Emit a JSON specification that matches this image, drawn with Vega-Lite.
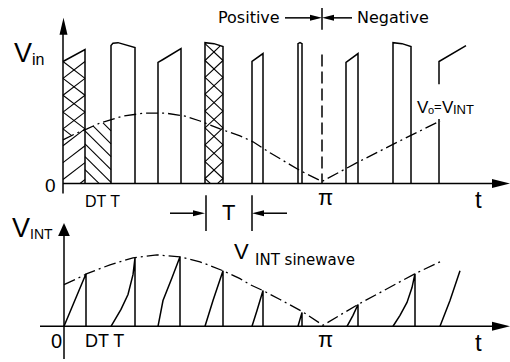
{
  "$schema": "https://vega.github.io/schema/vega-lite/v6.json",
  "width": 510,
  "height": 362,
  "autosize": {"type": "fit", "contains": "padding"},
  "padding": 0,
  "background": "white",
  "config": {"view": {"stroke": null}},
  "resolve": {"scale": {"size": "independent", "shape": "independent"}},
  "datasets": {
    "solid": [
      {"id": "ax1", "o": 0, "x": 63, "y": 195}, {"id": "ax1", "o": 1, "x": 63, "y": 30},
      {"id": "bl1", "o": 0, "x": 63, "y": 185}, {"id": "bl1", "o": 1, "x": 494, "y": 185},
      {"id": "ax2", "o": 0, "x": 64, "y": 362}, {"id": "ax2", "o": 1, "x": 64, "y": 236},
      {"id": "bl2", "o": 0, "x": 40, "y": 329}, {"id": "bl2", "o": 1, "x": 494, "y": 329},
      {"id": "p1", "o": 0, "x": 63, "y": 62}, {"id": "p1", "o": 1, "x": 85, "y": 50}, {"id": "p1", "o": 2, "x": 85, "y": 185},
      {"id": "p2", "o": 0, "x": 111, "y": 185}, {"id": "p2", "o": 1, "x": 111, "y": 46}, {"id": "p2", "o": 2, "x": 113, "y": 43.5}, {"id": "p2", "o": 3, "x": 118, "y": 43}, {"id": "p2", "o": 4, "x": 135, "y": 48}, {"id": "p2", "o": 5, "x": 135, "y": 185},
      {"id": "p3", "o": 0, "x": 158, "y": 185}, {"id": "p3", "o": 1, "x": 158, "y": 63}, {"id": "p3", "o": 2, "x": 163, "y": 60}, {"id": "p3", "o": 3, "x": 181, "y": 49}, {"id": "p3", "o": 4, "x": 181, "y": 185},
      {"id": "p4", "o": 0, "x": 205, "y": 185}, {"id": "p4", "o": 1, "x": 205, "y": 43}, {"id": "p4", "o": 2, "x": 214, "y": 44}, {"id": "p4", "o": 3, "x": 223, "y": 47}, {"id": "p4", "o": 4, "x": 223, "y": 185},
      {"id": "p5", "o": 0, "x": 252, "y": 185}, {"id": "p5", "o": 1, "x": 252, "y": 62}, {"id": "p5", "o": 2, "x": 263, "y": 54}, {"id": "p5", "o": 3, "x": 263, "y": 185},
      {"id": "p6", "o": 0, "x": 298, "y": 185}, {"id": "p6", "o": 1, "x": 298, "y": 44}, {"id": "p6", "o": 2, "x": 300, "y": 43}, {"id": "p6", "o": 3, "x": 302, "y": 44}, {"id": "p6", "o": 4, "x": 302, "y": 185},
      {"id": "p7", "o": 0, "x": 346, "y": 185}, {"id": "p7", "o": 1, "x": 346, "y": 63}, {"id": "p7", "o": 2, "x": 358, "y": 54}, {"id": "p7", "o": 3, "x": 358, "y": 185},
      {"id": "p8", "o": 0, "x": 393, "y": 185}, {"id": "p8", "o": 1, "x": 393, "y": 43}, {"id": "p8", "o": 2, "x": 402, "y": 44}, {"id": "p8", "o": 3, "x": 411, "y": 47}, {"id": "p8", "o": 4, "x": 411, "y": 185},
      {"id": "p9a", "o": 0, "x": 439, "y": 185}, {"id": "p9a", "o": 1, "x": 439, "y": 120},
      {"id": "p9b", "o": 0, "x": 439, "y": 85}, {"id": "p9b", "o": 1, "x": 439, "y": 62}, {"id": "p9b", "o": 2, "x": 466, "y": 46},
      {"id": "r1", "o": 0, "x": 64, "y": 329}, {"id": "r1", "o": 1, "x": 86, "y": 276}, {"id": "r1", "o": 2, "x": 86, "y": 329},
      {"id": "r2", "o": 0, "x": 111, "y": 329}, {"id": "r2", "o": 1, "x": 121, "y": 312}, {"id": "r2", "o": 2, "x": 128, "y": 297}, {"id": "r2", "o": 3, "x": 133, "y": 277}, {"id": "r2", "o": 4, "x": 135, "y": 260}, {"id": "r2", "o": 5, "x": 135, "y": 329},
      {"id": "r3", "o": 0, "x": 158, "y": 329}, {"id": "r3", "o": 1, "x": 163, "y": 303}, {"id": "r3", "o": 2, "x": 172, "y": 280}, {"id": "r3", "o": 3, "x": 180, "y": 259}, {"id": "r3", "o": 4, "x": 180, "y": 329},
      {"id": "r4", "o": 0, "x": 205, "y": 329}, {"id": "r4", "o": 1, "x": 213, "y": 303}, {"id": "r4", "o": 2, "x": 223, "y": 273}, {"id": "r4", "o": 3, "x": 223, "y": 329},
      {"id": "r5", "o": 0, "x": 252, "y": 329}, {"id": "r5", "o": 1, "x": 257, "y": 313}, {"id": "r5", "o": 2, "x": 263, "y": 293}, {"id": "r5", "o": 3, "x": 263, "y": 329},
      {"id": "r6", "o": 0, "x": 298, "y": 329}, {"id": "r6", "o": 1, "x": 302, "y": 315}, {"id": "r6", "o": 2, "x": 302, "y": 329},
      {"id": "r7", "o": 0, "x": 347, "y": 329}, {"id": "r7", "o": 1, "x": 353, "y": 318}, {"id": "r7", "o": 2, "x": 358, "y": 307}, {"id": "r7", "o": 3, "x": 358, "y": 329},
      {"id": "r8", "o": 0, "x": 393, "y": 329}, {"id": "r8", "o": 1, "x": 400, "y": 318}, {"id": "r8", "o": 2, "x": 407, "y": 305}, {"id": "r8", "o": 3, "x": 412, "y": 290}, {"id": "r8", "o": 4, "x": 415, "y": 276}, {"id": "r8", "o": 5, "x": 415, "y": 329},
      {"id": "r9", "o": 0, "x": 440, "y": 329}, {"id": "r9", "o": 1, "x": 450, "y": 303}, {"id": "r9", "o": 2, "x": 460, "y": 273},
      {"id": "tl", "o": 0, "x": 170, "y": 215}, {"id": "tl", "o": 1, "x": 195, "y": 215},
      {"id": "tb1", "o": 0, "x": 206, "y": 197}, {"id": "tb1", "o": 1, "x": 206, "y": 233},
      {"id": "tb2", "o": 0, "x": 252, "y": 197}, {"id": "tb2", "o": 1, "x": 252, "y": 233},
      {"id": "tr", "o": 0, "x": 263, "y": 215}, {"id": "tr", "o": 1, "x": 287, "y": 215},
      {"id": "pl", "o": 0, "x": 285, "y": 18}, {"id": "pl", "o": 1, "x": 312, "y": 18},
      {"id": "nl", "o": 0, "x": 332, "y": 18}, {"id": "nl", "o": 1, "x": 352, "y": 18},
      {"id": "pn", "o": 0, "x": 322, "y": 8}, {"id": "pn", "o": 1, "x": 322, "y": 30}
    ],
    "dashdot": [
      {"id": "c1", "o": 0, "x": 63, "y": 141}, {"id": "c1", "o": 1, "x": 77, "y": 134}, {"id": "c1", "o": 2, "x": 87, "y": 130}, {"id": "c1", "o": 3, "x": 100, "y": 124}, {"id": "c1", "o": 4, "x": 123, "y": 117}, {"id": "c1", "o": 5, "x": 145, "y": 114}, {"id": "c1", "o": 6, "x": 165, "y": 114}, {"id": "c1", "o": 7, "x": 185, "y": 117}, {"id": "c1", "o": 8, "x": 200, "y": 122}, {"id": "c1", "o": 9, "x": 220, "y": 130}, {"id": "c1", "o": 10, "x": 240, "y": 137}, {"id": "c1", "o": 11, "x": 253, "y": 143}, {"id": "c1", "o": 12, "x": 270, "y": 154}, {"id": "c1", "o": 13, "x": 290, "y": 166}, {"id": "c1", "o": 14, "x": 300, "y": 172}, {"id": "c1", "o": 15, "x": 322, "y": 183}, {"id": "c1", "o": 16, "x": 357, "y": 164}, {"id": "c1", "o": 17, "x": 400, "y": 142}, {"id": "c1", "o": 18, "x": 440, "y": 122},
      {"id": "c2", "o": 0, "x": 64, "y": 287}, {"id": "c2", "o": 1, "x": 75, "y": 282}, {"id": "c2", "o": 2, "x": 87, "y": 276}, {"id": "c2", "o": 3, "x": 110, "y": 267}, {"id": "c2", "o": 4, "x": 133, "y": 260}, {"id": "c2", "o": 5, "x": 157, "y": 257}, {"id": "c2", "o": 6, "x": 180, "y": 259}, {"id": "c2", "o": 7, "x": 200, "y": 264}, {"id": "c2", "o": 8, "x": 223, "y": 273}, {"id": "c2", "o": 9, "x": 240, "y": 281}, {"id": "c2", "o": 10, "x": 250, "y": 287}, {"id": "c2", "o": 11, "x": 263, "y": 293}, {"id": "c2", "o": 12, "x": 280, "y": 302}, {"id": "c2", "o": 13, "x": 302, "y": 314}, {"id": "c2", "o": 14, "x": 323, "y": 328}, {"id": "c2", "o": 15, "x": 358, "y": 307}, {"id": "c2", "o": 16, "x": 415, "y": 276}, {"id": "c2", "o": 17, "x": 440, "y": 264}
    ],
    "dashed": [
      {"id": "dv", "o": 0, "x": 322, "y": 55}, {"id": "dv", "o": 1, "x": 322, "y": 185}
    ],
    "hatch": [
      {"x": 63, "y": 62, "x2": 85, "y2": 79}, {"x": 63, "y": 79, "x2": 85, "y2": 96}, {"x": 63, "y": 96, "x2": 85, "y2": 113}, {"x": 63, "y": 113, "x2": 85, "y2": 130}, {"x": 63, "y": 130, "x2": 72, "y2": 137},
      {"x": 85, "y": 62, "x2": 63, "y2": 79}, {"x": 85, "y": 79, "x2": 63, "y2": 96}, {"x": 85, "y": 96, "x2": 63, "y2": 113}, {"x": 85, "y": 113, "x2": 63, "y2": 130}, {"x": 85, "y": 130, "x2": 63, "y2": 147}, {"x": 85, "y": 147, "x2": 63, "y2": 164}, {"x": 85, "y": 164, "x2": 63, "y2": 181}, {"x": 85, "y": 181, "x2": 80, "y2": 185},
      {"x": 103, "y": 124, "x2": 111, "y2": 132}, {"x": 93, "y": 127, "x2": 111, "y2": 145}, {"x": 85, "y": 132, "x2": 111, "y2": 158}, {"x": 85, "y": 145, "x2": 111, "y2": 171}, {"x": 85, "y": 158, "x2": 111, "y2": 184}, {"x": 85, "y": 171, "x2": 99, "y2": 185},
      {"x": 205, "y": 44, "x2": 223, "y2": 61}, {"x": 205, "y": 61, "x2": 223, "y2": 78}, {"x": 205, "y": 78, "x2": 223, "y2": 95}, {"x": 205, "y": 95, "x2": 223, "y2": 112}, {"x": 205, "y": 112, "x2": 223, "y2": 129}, {"x": 205, "y": 129, "x2": 223, "y2": 146}, {"x": 205, "y": 146, "x2": 223, "y2": 163}, {"x": 205, "y": 163, "x2": 223, "y2": 180}, {"x": 205, "y": 180, "x2": 210.3, "y2": 185},
      {"x": 220, "y": 46.5, "x2": 205, "y2": 61}, {"x": 223, "y": 61, "x2": 205, "y2": 78}, {"x": 223, "y": 78, "x2": 205, "y2": 95}, {"x": 223, "y": 95, "x2": 205, "y2": 112}, {"x": 223, "y": 112, "x2": 205, "y2": 129}, {"x": 223, "y": 129, "x2": 205, "y2": 146}, {"x": 223, "y": 146, "x2": 205, "y2": 163}, {"x": 223, "y": 163, "x2": 205, "y2": 180}, {"x": 223, "y": 180, "x2": 217.7, "y2": 185}
    ],
    "heads": [
      {"x": 63.5, "y": 26.5, "kind": "axisUp"},
      {"x": 64, "y": 231.5, "kind": "axisUpWide"},
      {"x": 501, "y": 185, "kind": "axisRight"},
      {"x": 501, "y": 329, "kind": "axisRight"},
      {"x": 199, "y": 215, "kind": "pointRight"},
      {"x": 258, "y": 215, "kind": "pointLeft"},
      {"x": 316, "y": 18, "kind": "pointRight"},
      {"x": 328, "y": 18, "kind": "pointLeft"}
    ],
    "labelsN": [
      {"x": 14, "y": 54, "text": "V", "role": "axisV"},
      {"x": 32, "y": 60, "text": "in", "role": "axisSub"},
      {"x": 12, "y": 231, "text": "V", "role": "axisV"},
      {"x": 30, "y": 237, "text": "INT", "role": "axisSub2"},
      {"x": 45, "y": 188, "text": "0", "role": "origin"},
      {"x": 51, "y": 345, "text": "0", "role": "origin2"},
      {"x": 85, "y": 204, "text": "DT T", "role": "tick"},
      {"x": 85, "y": 345, "text": "DT T", "role": "tick2"},
      {"x": 222, "y": 215, "text": "T", "role": "period"},
      {"x": 234, "y": 254, "text": "V", "role": "curveV"},
      {"x": 417, "y": 109, "text": "V", "role": "noteV"},
      {"x": 428, "y": 112, "text": "o", "role": "noteSubO"},
      {"x": 434, "y": 108, "text": "=", "role": "noteEq"},
      {"x": 442, "y": 109, "text": "V", "role": "noteV"},
      {"x": 453, "y": 111, "text": "INT", "role": "noteSubI"},
      {"x": 475, "y": 203, "text": "t", "role": "time"},
      {"x": 475, "y": 347, "text": "t", "role": "time"},
      {"x": 318, "y": 200, "text": "π", "role": "pi"},
      {"x": 318, "y": 343, "text": "π", "role": "pi"}
    ],
    "labelsW": [
      {"x": 218, "y": 18, "text": "Positive", "role": "dir"},
      {"x": 357, "y": 18, "text": "Negative", "role": "dir"},
      {"x": 255, "y": 262, "text": "INT sinewave", "role": "curveName"}
    ]
  },
  "encoding": {
    "x": {"field": "x", "type": "quantitative", "scale": {"domain": [0, 510], "nice": false, "zero": false}, "axis": null},
    "y": {"field": "y", "type": "quantitative", "scale": {"domain": [0, 362], "reverse": true, "nice": false, "zero": false}, "axis": null}
  },
  "layer": [
    {
      "data": {"name": "hatch"},
      "mark": {"type": "rule", "color": "black", "strokeWidth": 1.1},
      "encoding": {"x2": {"field": "x2"}, "y2": {"field": "y2"}}
    },
    {
      "data": {"name": "solid"},
      "mark": {"type": "line", "color": "black", "strokeWidth": 1.5, "strokeJoin": "miter"},
      "encoding": {"detail": {"field": "id"}, "order": {"field": "o"}}
    },
    {
      "data": {"name": "dashdot"},
      "mark": {"type": "line", "color": "black", "strokeWidth": 1.3, "strokeDash": [12, 4, 2, 4]},
      "encoding": {"detail": {"field": "id"}, "order": {"field": "o"}}
    },
    {
      "data": {"name": "dashed"},
      "mark": {"type": "line", "color": "black", "strokeWidth": 1.5, "strokeDash": [12, 5]},
      "encoding": {"detail": {"field": "id"}, "order": {"field": "o"}}
    },
    {
      "data": {"name": "heads"},
      "mark": {"type": "point", "filled": true, "color": "black", "opacity": 1, "strokeWidth": 0},
      "encoding": {
        "shape": {"field": "kind", "type": "nominal", "legend": null, "scale": {"type": "ordinal",
          "domain": ["axisUp", "axisUpWide", "axisRight", "pointRight", "pointLeft"],
          "range": ["M0,-1L0.47,1L-0.47,1Z", "M0,-1L0.9,1L-0.9,1Z", "M1,0L-1,-0.5L-1,0.5Z", "M1,0L-1,-0.5L-1,0.5Z", "M-1,0L1,-0.5L1,0.5Z"]}},
        "size": {"field": "kind", "type": "nominal", "legend": null, "scale": {"type": "ordinal",
          "domain": ["axisUp", "axisUpWide", "axisRight", "pointRight", "pointLeft"],
          "range": [289, 169, 324, 144, 144]}}
      }
    },
    {
      "data": {"name": "labelsN"},
      "mark": {"type": "text", "align": "left", "baseline": "middle", "font": "Liberation Sans", "color": "black"},
      "encoding": {
        "text": {"field": "text"},
        "size": {"field": "role", "type": "nominal", "legend": null, "scale": {"type": "ordinal",
          "domain": ["axisV", "axisSub", "axisSub2", "origin", "origin2", "tick", "tick2", "period", "curveV", "noteV", "noteSubO", "noteSubI", "noteEq", "time", "pi"],
          "range": [27, 16, 14, 19, 20, 16, 18, 22, 22, 17, 11, 13, 13, 24, 22]}}
      }
    },
    {
      "data": {"name": "labelsW"},
      "mark": {"type": "text", "align": "left", "baseline": "middle", "font": "DejaVu Sans", "color": "black"},
      "encoding": {
        "text": {"field": "text"},
        "size": {"field": "role", "type": "nominal", "legend": null, "scale": {"type": "ordinal",
          "domain": ["dir", "curveName"],
          "range": [16, 15]}}
      }
    }
  ]
}
